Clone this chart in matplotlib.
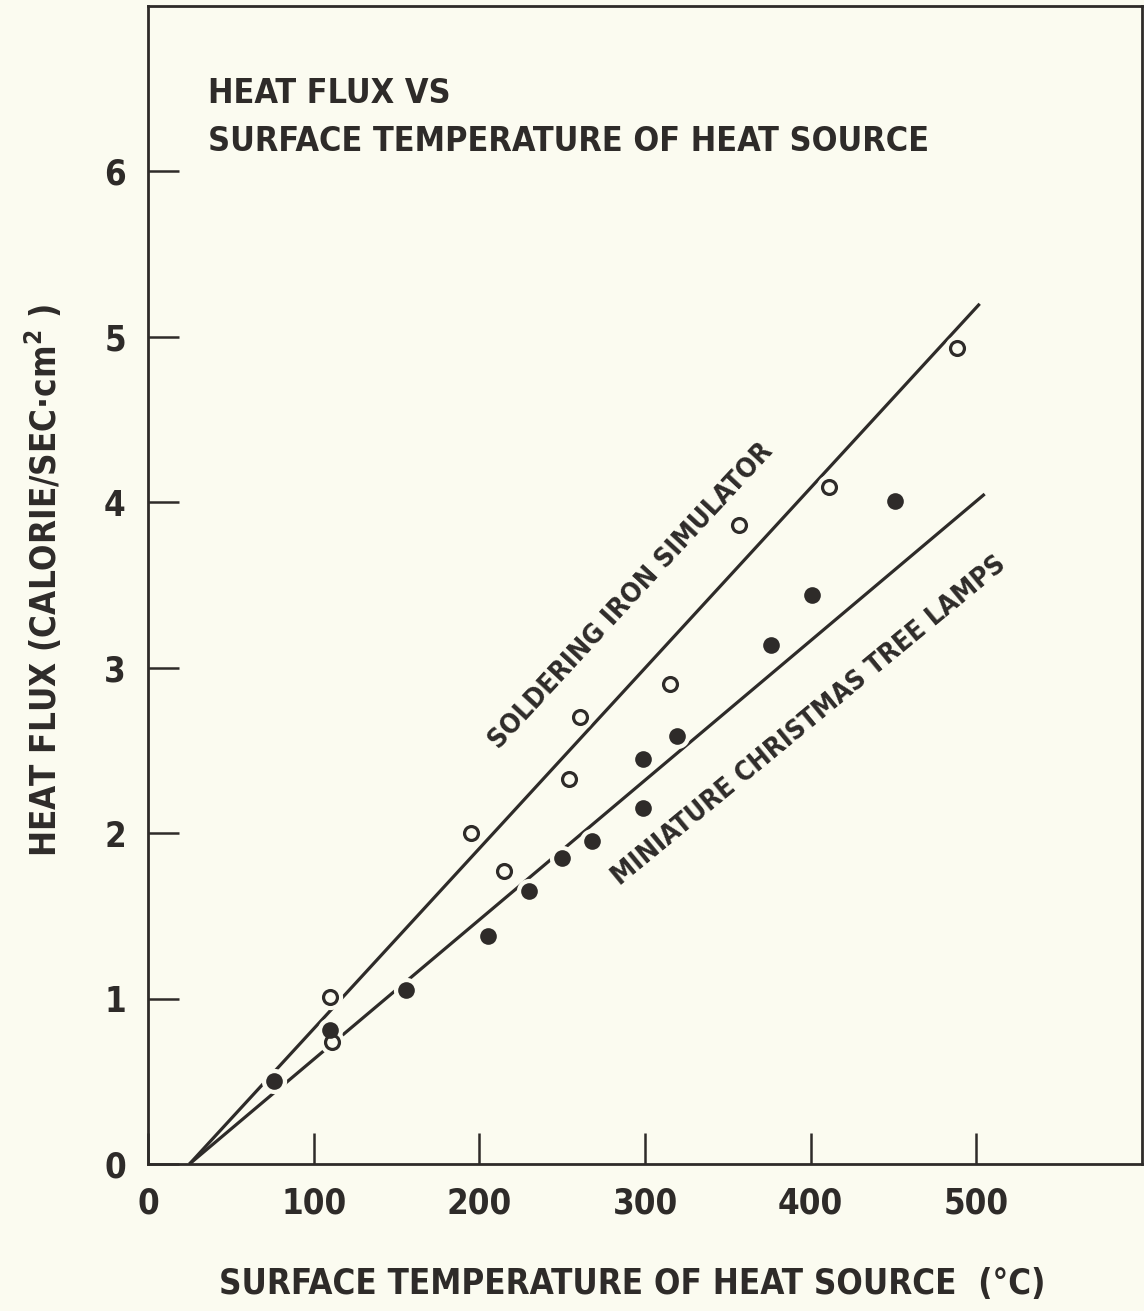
import matplotlib

matplotlib.use("Agg")
import matplotlib.pyplot as plt

# values
soldering_x = [110, 111, 195, 215, 254, 261, 315, 357, 411, 488]
soldering_y = [1.01, 0.74, 2.00, 1.77, 2.33, 2.70, 2.90, 3.86, 4.09, 4.93]
lamps_x = [76, 110, 156, 205, 230, 250, 268, 299, 299, 319, 376, 401, 451]
lamps_y = [0.50, 0.81, 1.05, 1.38, 1.65, 1.85, 1.95, 2.15, 2.45, 2.59, 3.14, 3.44, 4.01]

# hand-drawn fit lines (start / end)
soldering_fit_x = [25, 502]
soldering_fit_y = [0.0, 5.20]
lamps_fit_x = [25, 505]
lamps_fit_y = [0.0, 4.05]

x_ticks = [0, 100, 200, 300, 400, 500]
y_ticks = [0, 1, 2, 3, 4, 5, 6]

BG = "#fbfbf0"
INK = "#2e2b29"
FONT = ["DejaVu Sans Condensed", "DejaVu Sans"]

plt.rcParams["font.family"] = FONT
plt.rcParams["font.weight"] = "bold"
plt.rcParams["font.stretch"] = "condensed"
plt.rcParams["axes.labelweight"] = "bold"

fig = plt.figure(figsize=(11.44, 13.11), dpi=100, facecolor=BG)
ax = fig.add_axes([0.1294, 0.1121, 0.8689, 0.8833], facecolor=BG)

ax.plot(soldering_fit_x, soldering_fit_y, color=INK, lw=2.3, zorder=2,
        solid_capstyle="butt")
ax.plot(lamps_fit_x, lamps_fit_y, color=INK, lw=2.3, zorder=2,
        solid_capstyle="butt")

# background halos break the lines around the points, like the original
ax.scatter(soldering_x + lamps_x, soldering_y + lamps_y, s=330, color=BG,
           linewidths=0, zorder=3)

ax.plot(soldering_x, soldering_y, "o", ms=10, mfc=BG, mec=INK, mew=2.3,
        zorder=4)
ax.plot(lamps_x, lamps_y, "o", ms=12, mfc=INK, mec=INK, mew=0, zorder=4)

ax.set_xlim(0, 600)
ax.set_ylim(0, 7)
ax.set_xticks(x_ticks)
ax.set_yticks(y_ticks)
ax.tick_params(direction="in", length=22, width=1.8, color=INK,
               labelcolor=INK, labelsize=25)
ax.tick_params(axis="x", pad=16)
ax.tick_params(axis="y", pad=16)
for side in ("left", "bottom", "top", "right"):
    ax.spines[side].set_linewidth(2.0)
    ax.spines[side].set_color(INK)

ax.set_xlabel("SURFACE TEMPERATURE OF HEAT SOURCE  (°C)", fontsize=25,
              color=INK, va="center")
ax.xaxis.set_label_coords(0.487, -0.1036)
ax.set_ylabel("HEAT FLUX (CALORIE/SEC·cm$^\\mathregular{2}$ )", fontsize=25,
              color=INK, va="center")
ax.yaxis.set_label_coords(-0.1056, 0.504)

ax.text(0.0604, 0.9035, "HEAT FLUX VS\nSURFACE TEMPERATURE OF HEAT SOURCE",
        transform=ax.transAxes, fontsize=24.5, color=INK, ha="left",
        va="center", linespacing=1.58)

ax.text(292, 3.43, "SOLDERING IRON SIMULATOR", fontsize=19.5, color=INK,
        rotation=47.3, rotation_mode="anchor", ha="center", va="center")
ax.text(399, 2.68, "MINIATURE CHRISTMAS TREE LAMPS", fontsize=19.5, color=INK,
        rotation=39.5, rotation_mode="anchor", ha="center", va="center")

fig.savefig("out.png", facecolor=BG)
